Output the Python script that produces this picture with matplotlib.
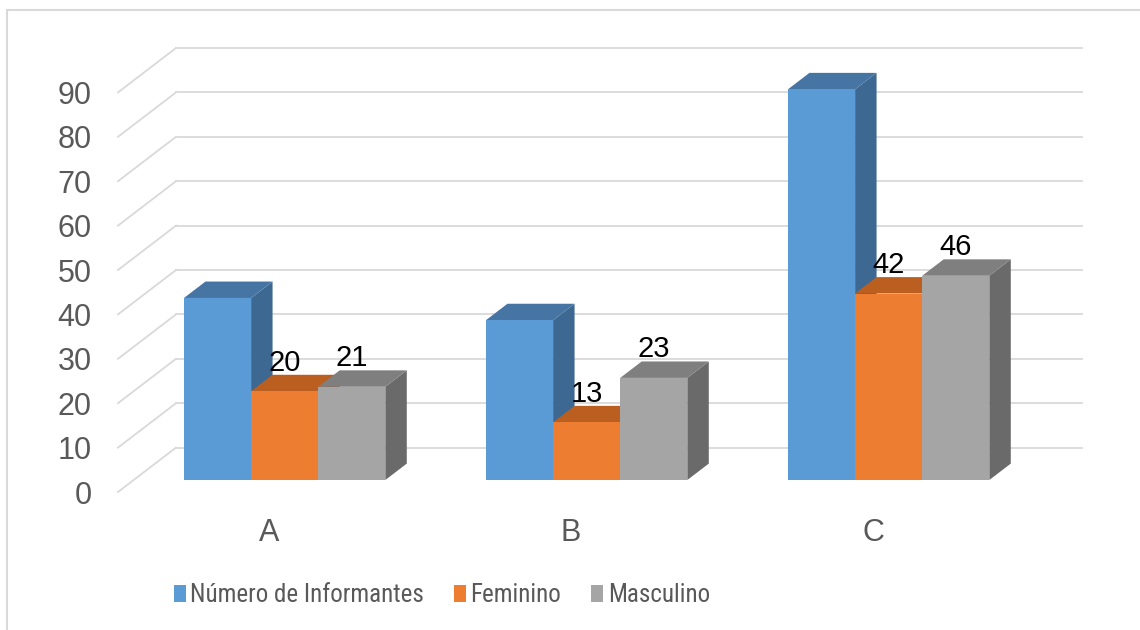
"""3D-style clustered column chart: informants by group and sex"""

import matplotlib
matplotlib.use('Agg')
import matplotlib.pyplot as plt
from matplotlib.patches import Polygon, Rectangle, Patch
from matplotlib import font_manager

categories = ['A', 'B', 'C']
series_names = ['Número de Informantes', 'Feminino', 'Masculino']
informantes = [41, 36, 88]
feminino = [20, 13, 42]
masculino = [21, 23, 46]
yticks = [0, 10, 20, 30, 40, 50, 60, 70, 80, 90]

# front / top / side shades for each series
front_colors = ['#5b9bd5', '#ed7d31', '#a5a5a5']
top_colors = ['#4675a3', '#bb5f21', '#7f7f7f']
side_colors = ['#3d6891', '#a9521a', '#6a6a6a']
show_labels = [False, True, True]

installed = {f.name for f in font_manager.fontManager.ttflist}
main_font = 'Liberation Sans'
if 'Liberation Sans Narrow' in installed:
    legend_font, legend_size = 'Liberation Sans Narrow', 19
elif 'Roboto Condensed' in installed:
    legend_font, legend_size = 'Roboto Condensed', 18
else:
    legend_font, legend_size = 'Liberation Sans', 17

W, H = 1140, 630
PX_X = 302.0   # pixels per category
PX_Y = 4.44    # pixels per unit of value
X0 = 269.0     # pixel x of category A (front of floor)
Y0 = 492.0     # pixel y of value 0 (front of floor)
AX_LEFT = 100.0

# depth of the floor and of the bars, in data units
floor_dx, floor_dy = 58 / PX_X, 10.0
bar_front = 0.27
bar_depth = 0.37
group_width = 2 / 3.0

fig = plt.figure(figsize=(W / 100, H / 100), dpi=100)
fig.patch.set_facecolor('white')
ax = fig.add_axes([AX_LEFT / W, 0, 1 - AX_LEFT / W, 1])
ax.set_xlim((AX_LEFT - X0) / PX_X, (W - X0) / PX_X)
ax.set_ylim((Y0 - H) / PX_Y, Y0 / PX_Y)
for s in ax.spines.values():
    s.set_visible(False)
ax.set_xticks([])
ax.set_yticks(yticks)
ax.set_yticklabels([str(v) for v in yticks], fontsize=22, color='#595959',
                   family=main_font)
ax.tick_params(axis='y', length=0, pad=6)

# chart border (top and left edges visible)
fig.patches.append(Rectangle((7 / W, -0.1), 1.2, 1 - 10 / H + 0.1,
                             transform=fig.transFigure, fill=False,
                             edgecolor='#d9d9d9', lw=1.5))

# gridlines: side wall diagonals and back wall horizontals
x_left = -0.5
x_right = len(categories) - 0.5
for v in yticks:
    ax.plot([x_left, x_left + floor_dx], [v, v + floor_dy],
            color='#d9d9d9', lw=1.3, zorder=1)
    ax.plot([x_left + floor_dx, x_right + floor_dx], [v + floor_dy, v + floor_dy],
            color='#d9d9d9', lw=1.3, zorder=1)

off_x = bar_front * floor_dx
off_y = bar_front * floor_dy
ddx = bar_depth * floor_dx
ddy = bar_depth * floor_dy
bar_w = group_width / 3

all_series = [informantes, feminino, masculino]
z = 2
for i, cat in enumerate(categories):
    for j, values in enumerate(all_series):
        v = values[i]
        x0 = i - group_width / 2 + j * bar_w + off_x
        x1 = x0 + bar_w
        top = off_y + v
        side = Polygon([(x1, off_y), (x1 + ddx, off_y + ddy),
                        (x1 + ddx, top + ddy), (x1, top)],
                       closed=True, facecolor=side_colors[j], edgecolor='none',
                       zorder=z)
        cap = Polygon([(x0, top), (x1, top), (x1 + ddx, top + ddy),
                       (x0 + ddx, top + ddy)],
                      closed=True, facecolor=top_colors[j], edgecolor='none',
                      zorder=z)
        ax.add_patch(side)
        ax.add_patch(cap)
        ax.bar(x0, v, width=bar_w, bottom=off_y, align='edge',
               color=front_colors[j], edgecolor='none', zorder=z)
        z += 1
        if show_labels[j]:
            ax.text(x0 + bar_w / 2, top + ddy - 0.4, str(v), ha='center',
                    va='bottom', fontsize=21, color='black', family=main_font,
                    zorder=20)
    ax.text(i, (Y0 - 533) / PX_Y, cat, ha='center', va='center', fontsize=22,
            color='#595959', family=main_font)

handles = [Patch(facecolor=c, edgecolor='none') for c in front_colors]
fig.legend(handles, series_names, loc='center', ncol=3,
           bbox_to_anchor=(442 / W, 1 - 595 / H), frameon=False,
           prop={'family': legend_font, 'size': legend_size},
           labelcolor='#595959', handlelength=0.45, handleheight=0.7,
           handletextpad=0.2, columnspacing=1.2, borderpad=0)

fig.savefig('out.png', dpi=100, facecolor='white')
